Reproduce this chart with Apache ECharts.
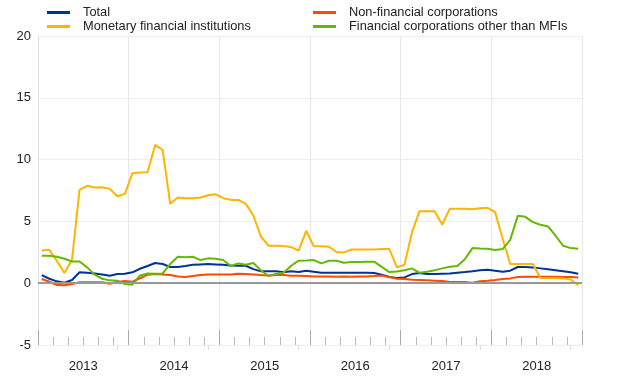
<!DOCTYPE html>
<html>
<head>
<meta charset="utf-8">
<script src="https://cdn.jsdelivr.net/npm/echarts@6/dist/echarts.min.js"></script>
<style>
html,body{margin:0;padding:0;background:#fff;}
#chart{width:620px;height:387px;}
</style>
</head>
<body>
<div id="chart"></div>
<script>
// Monthly observations, Jan 2013 - Dec 2018
var startYear = 2013;
var yearLabels = ['2013','2014','2015','2016','2017','2018'];
var seriesNames = ['Total','Non-financial corporations','Monetary financial institutions','Financial corporations other than MFIs'];

var total = [0.66,0.36,0.15,0.04,0.26,0.88,0.85,0.79,0.71,0.61,0.74,0.77,
  0.88,1.17,1.39,1.63,1.55,1.31,1.31,1.39,1.49,1.52,1.55,1.52,
  1.49,1.44,1.41,1.41,1.14,0.96,0.96,0.96,0.88,0.96,0.90,1.01,
  0.93,0.85,0.85,0.85,0.85,0.85,0.85,0.85,0.82,0.69,0.50,0.42,
  0.47,0.74,0.82,0.74,0.74,0.77,0.79,0.85,0.90,0.96,1.04,1.09,
  1.01,0.93,1.01,1.31,1.31,1.28,1.20,1.12,1.04,0.96,0.88,0.77];

var nfc = [0.34,0.12,-0.15,-0.17,-0.07,0.07,0.07,0.07,0.07,-0.04,0.09,0.17,
  0.12,0.40,0.68,0.74,0.71,0.66,0.55,0.50,0.58,0.66,0.71,0.71,
  0.71,0.71,0.77,0.74,0.71,0.66,0.63,0.66,0.66,0.60,0.60,0.58,
  0.55,0.55,0.55,0.53,0.55,0.53,0.55,0.55,0.58,0.63,0.50,0.36,
  0.34,0.28,0.26,0.23,0.20,0.17,0.09,0.09,0.09,0.04,0.15,0.20,
  0.26,0.34,0.39,0.50,0.53,0.53,0.53,0.53,0.53,0.50,0.50,0.47];

var mfi = [2.65,2.70,1.80,0.82,1.90,7.55,7.88,7.74,7.77,7.63,7.04,7.23,
  8.90,8.95,8.98,11.19,10.78,6.42,6.93,6.88,6.88,6.93,7.12,7.20,
  6.88,6.74,6.74,6.42,5.48,3.78,3.03,3.03,3.00,2.92,2.63,4.24,
  2.98,2.98,2.95,2.52,2.49,2.73,2.73,2.73,2.73,2.76,2.76,1.28,
  1.49,4.13,5.83,5.83,5.83,4.73,6.02,6.02,6.02,5.99,6.07,6.10,
  5.75,3.60,1.55,1.55,1.55,1.55,0.42,0.42,0.42,0.39,0.30,-0.16];

var ofi = [2.22,2.22,2.14,1.98,1.76,1.76,1.28,0.69,0.36,0.23,0.20,-0.07,
  -0.12,0.63,0.79,0.77,0.79,1.55,2.14,2.09,2.14,1.87,2.01,1.98,
  1.87,1.39,1.60,1.49,1.63,1.04,0.58,0.74,0.85,1.41,1.82,1.84,
  1.87,1.60,1.82,1.82,1.66,1.71,1.71,1.74,1.74,1.32,0.90,0.94,
  1.05,1.20,0.84,0.93,1.04,1.20,1.33,1.40,1.94,2.84,2.81,2.79,
  2.68,2.76,3.51,5.45,5.37,4.94,4.73,4.59,3.84,3.03,2.84,2.79];

var colors = ['#003299','#ff4b00','#ffb400','#65b800'];

function pts(arr){ return arr.map(function(v,i){ return [i+0.5, v]; }); }

var labelPos = yearLabels.map(function(y,k){ return k*12+6; });
var faintTicks = yearLabels.map(function(y,k){ return k*12+10.5; });

var chart = echarts.init(document.getElementById('chart'));
var font = 'Liberation Sans, Arial, sans-serif';
function legendAt(name, left, top){
  return {data:[name], left:left, top:top, padding:0, itemWidth:23, itemHeight:3,
    icon:'rect', selectedMode:false,
    textStyle:{fontSize:12.8, color:'#222', fontFamily:font, padding:[0,0,0,8]}};
}
var dataSets = [total, nfc, mfi, ofi];
var series = [{
  name:'zero', type:'line', data:[], z:1, silent:true,
  markLine:{silent:true, symbol:'none', label:{show:false}, animation:false,
    lineStyle:{color:'#999', width:2, type:'solid'}, data:[{yAxis:0}]}
}];
dataSets.forEach(function(d,k){
  series.push({name:seriesNames[k], type:'line', data:pts(d), showSymbol:false, symbol:'none',
    lineStyle:{width:2, color:colors[k]}, itemStyle:{color:colors[k]}, z:3,
    animation:false});
});

chart.setOption({
  animation:false,
  textStyle:{fontFamily:font},
  legend:[legendAt(seriesNames[0],47,6), legendAt(seriesNames[2],47,20),
          legendAt(seriesNames[1],313,6), legendAt(seriesNames[3],313,20)],
  grid:{left:38, right:38, top:36, bottom:42, containLabel:false},
  xAxis:[{
    type:'value', min:0, max:72, interval:12, position:'bottom',
    axisLine:{show:false, onZero:false},
    axisTick:{show:true, inside:true, length:15, lineStyle:{color:'#aaa'}},
    minorTick:{show:true, splitNumber:6, length:8, lineStyle:{color:'#bbb'}},
    splitLine:{show:true, lineStyle:{color:'#e8e8e8'}},
    axisLabel:{show:true, customValues:labelPos, margin:15, fontSize:13, color:'#222', fontFamily:font,
      formatter:function(v){ return String(startYear + Math.floor(v/12)); }}
  },{
    type:'value', min:0, max:72, position:'bottom',
    axisLine:{show:false, onZero:false}, splitLine:{show:false},
    axisTick:{show:true, inside:false, length:5, customValues:faintTicks, lineStyle:{color:'#ddd'}},
    axisLabel:{show:false}
  }],
  yAxis:{
    type:'value', min:-5, max:20, interval:5,
    axisLine:{show:true, lineStyle:{color:'#e0e0e0'}},
    axisTick:{show:false},
    splitLine:{show:true, lineStyle:{color:'#eeeeee'}},
    axisLabel:{fontSize:13, color:'#222', margin:7, fontFamily:font}
  },
  series:series
});
</script>
</body>
</html>
